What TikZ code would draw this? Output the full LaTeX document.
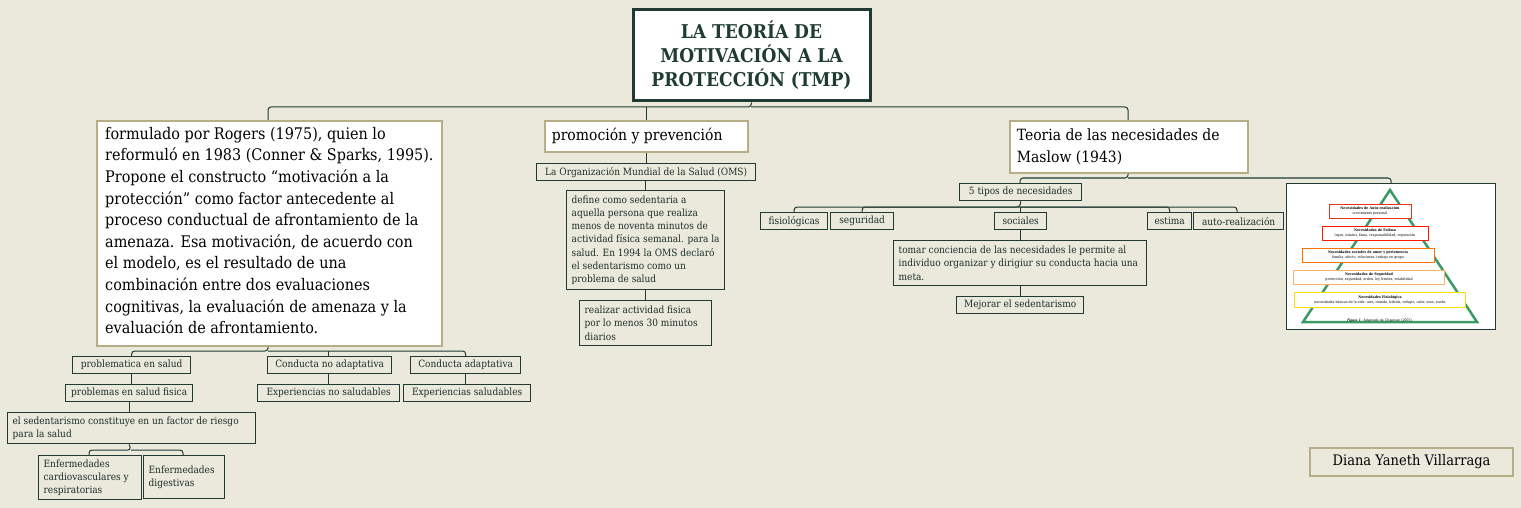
\documentclass[tikz,border=0pt]{standalone}
\usepackage{fontspec}
\setmainfont{DejaVu Serif Condensed}
\definecolor{bg}{HTML}{EBE8DC}
\definecolor{dk}{HTML}{1F3B33}
\definecolor{kh}{HTML}{B5AE86}
\definecolor{pg}{HTML}{3A9A64}
\tikzset{
 sbox/.style={draw=dk,line width=1.3pt,fill=bg,anchor=north west,inner sep=4pt,align=flush left,font=\fontsize{10}{13.2}\selectfont,text=dk!80!black},
 wbox/.style={draw=kh,line width=1.8pt,fill=white,anchor=north west,inner sep=7pt,align=flush left,text=black},
 ln/.style={draw=dk,line width=1pt,rounded corners=3pt},
 pl/.style={line width=0.8pt,fill=white,anchor=center,inner sep=1pt,align=center,font=\fontsize{3.6}{4.3}\selectfont},
}
\begin{document}
\begin{tikzpicture}[x=1pt,y=-1pt]
\fill[bg] (0,0) rectangle (1521,508);
\useasboundingbox (0,0) rectangle (1521,508);
% title
\node[draw=dk,line width=3pt,fill=white,minimum width=237pt,minimum height=91pt,align=center,text=dk,font=\fontsize{19}{24}\selectfont\bfseries] (t) at (751.5,55.5) {LA TEORÍA DE\\MOTIVACIÓN A LA\\PROTECCIÓN (TMP)};
% top level
\node[draw=kh,line width=1.8pt,fill=white,minimum width=345pt,minimum height=225pt,anchor=north west] (l) at (96,120) {};
\node[anchor=north west,inner sep=0pt,align=left,font=\fontsize{16}{21.6}\selectfont] (lt) at (105,127) {formulado por Rogers (1975), quien lo\\reformuló en 1983 (Conner \& Sparks, 1995).\\Propone el constructo “motivación a la\\protección” como factor antecedente al\\proceso conductual de afrontamiento de la\\amenaza. Esa motivación, de acuerdo con\\el modelo, es el resultado de una\\combinación entre dos evaluaciones\\cognitivas, la evaluación de amenaza y la\\evaluación de afrontamiento.};
\node[wbox,minimum width=203pt,minimum height=31pt,text width=189pt,font=\fontsize{15.5}{19}\selectfont] (p) at (544,120) {promoción y prevención};
\node[wbox,minimum width=238pt,minimum height=52pt,text width=224pt,font=\fontsize{15.5}{22}\selectfont] (m) at (1009,120) {Teoria de las necesidades de Maslow (1943)};
% middle column
\node[sbox,minimum width=219pt,minimum height=17pt,inner sep=2pt,align=center] (oms) at (536,163) {La Organización Mundial de la Salud (OMS)};
\node[sbox,minimum width=158pt,minimum height=99pt,text width=148pt] (def) at (566,190) {define como sedentaria a aquella persona que realiza menos de noventa minutos de actividad física semanal. para la salud. En 1994 la OMS declaró el sedentarismo como un problema de salud};
\node[sbox,minimum width=132pt,minimum height=45pt,text width=122pt] (rea) at (579,300) {realizar actividad fisica por lo menos 30 minutos diarios};
% right column
\node[sbox,minimum width=122pt,minimum height=17pt,inner sep=2pt,align=center] (cinco) at (959,183) {5 tipos de necesidades};
\node[sbox,minimum width=67pt,minimum height=17pt,inner sep=2pt,align=center] (fis) at (760,212) {fisiológicas};
\node[sbox,minimum width=63pt,minimum height=17pt,inner sep=2pt,align=center] (seg) at (830,212) {seguridad};
\node[sbox,minimum width=52pt,minimum height=17pt,inner sep=2pt,align=center] (soc) at (994,212) {sociales};
\node[sbox,minimum width=44pt,minimum height=17pt,inner sep=2pt,align=center] (est) at (1147,212) {estima};
\node[sbox,minimum width=90pt,minimum height=17pt,inner sep=2pt,align=center] (aut) at (1193,212) {auto-realización};
\node[sbox,minimum width=253pt,minimum height=45pt,text width=243pt] (tom) at (893,240) {tomar conciencia de las necesidades le permite al individuo organizar y dirigiur su conducta hacia una meta.};
\node[sbox,minimum width=127pt,minimum height=17pt,inner sep=2pt,align=center] (mej) at (956,296) {Mejorar el sedentarismo};
% image
\node[draw=dk,line width=1.2pt,fill=white,minimum width=209pt,minimum height=146pt,anchor=north west] (img) at (1286,183) {};
\draw[pg,line width=2.5pt] (1390,190) -- (1303,322) -- (1477,322) -- cycle;
\node[pl,draw=red!60!brown,minimum width=82pt,minimum height=14pt] (n1) at (1370,211) {\textbf{Necesidades de Auto-realización}\\crecimiento personal};
\node[pl,draw=red!80!orange,minimum width=106pt,minimum height=14pt] (n2) at (1375,233) {\textbf{Necesidades de Estima}\\logro, estatus, fama, responsabilidad, reputación};
\node[pl,draw=orange!90!red,minimum width=132pt,minimum height=14pt] (n3) at (1368,255) {\textbf{Necesidades sociales de amor y pertenencia}\\familia, afecto, relaciones, trabajo en grupo};
\node[pl,draw=orange!60,minimum width=151pt,minimum height=14pt] (n4) at (1369,277) {\textbf{Necesidades de Seguridad}\\protección, seguridad, orden, ley, límites, estabilidad};
\node[pl,draw=yellow!80!orange,minimum width=171pt,minimum height=15pt] (n5) at (1380,300) {\textbf{Necesidades Fisiológica}\\necesidades básicas de la vida: aire, comida, bebida, refugio, calor, sexo, sueño};
\node[font=\fontsize{3.6}{4}\selectfont\sffamily] (cap) at (1380,321) {\textbf{\itshape Figura 1}. Adaptado de Chapman (2007).};
% left column
\node[sbox,minimum width=118pt,minimum height=17pt,inner sep=2pt,align=center] (pro) at (72,356) {problematica en salud};
\node[sbox,minimum width=124pt,minimum height=17pt,inner sep=2pt,align=center] (cna) at (267,356) {Conducta no adaptativa};
\node[sbox,minimum width=110pt,minimum height=17pt,inner sep=2pt,align=center] (ca) at (410,356) {Conducta adaptativa};
\node[sbox,minimum width=127pt,minimum height=17pt,inner sep=2pt,align=center] (pf) at (65,384) {problemas en salud fisica};
\node[sbox,minimum width=142pt,minimum height=17pt,inner sep=2pt,align=center] (ens) at (257,384) {Experiencias no saludables};
\node[sbox,minimum width=127pt,minimum height=17pt,inner sep=2pt,align=center] (es) at (403,384) {Experiencias saludables};
\node[sbox,minimum width=248pt,minimum height=31pt,text width=238pt] (sed) at (7,412) {el sedentarismo constituye en un factor de riesgo para la salud};
\node[sbox,minimum width=103pt,minimum height=43pt,text width=93pt] (ec) at (38,455) {Enfermedades cardiovasculares y respiratorias};
\node[sbox,minimum width=81pt,minimum height=43pt,text width=71pt] (ed) at (143,455) {Enfermedades digestivas};
% author
\node[draw=kh,line width=1.8pt,fill=bg,minimum width=203pt,minimum height=28pt,font=\fontsize{14.5}{16}\selectfont] (au) at (1411.5,462) {Diana Yaneth Villarraga};
% connectors
\draw[ln] (t.south) -- (751,107) -| (l.north -| 268,0);
\draw[ln] (751,107) -| (1128,120);
\draw[ln] (p.north) -- (p.north |- 0,107);
\draw[ln] (p.south) -- (oms.north -| p.south);
\draw[ln] (oms.south -| 645,0) -- (def.north -| 645,0);
\draw[ln] (def.south -| 645,0) -- (rea.north -| 645,0);
\draw[ln] (m.south -| 1128,0) -- (1128,178) -| (cinco.north -| 1020,0);
\draw[ln] (1128,178) -| (img.north);
\draw[ln] (cinco.south) -- (1020,207) -| (fis.north);
\draw[ln] (1020,207) -| (seg.north);
\draw[ln] (1020,207) -| (aut.north -| 1237,0);
\draw[ln] (1020,207) -| (est.north);
\draw[ln] (1020,207) -- (soc.north -| 1020,0);
\draw[ln] (soc.south -| 1020,0) -- (tom.north -| 1020,0);
\draw[ln] (tom.south -| 1020,0) -- (mej.north -| 1020,0);
\draw[ln] (l.south -| 268,0) -- (268,351) -| (pro.north);
\draw[ln] (268,351) -| (ca.north);
\draw[ln] (cna.north -| 328,0) -- (328,351);
\draw[ln] (pro.south) -- (pf.north -| pro.south);
\draw[ln] (pf.south) -- (sed.north -| pf.south);
\draw[ln] (sed.south -| pf.south) -- (131,450) -| (ec.north -| 89,0);
\draw[ln] (131,450) -| (ed.north -| 183,0);
\draw[ln] (cna.south -| 328,0) -- (ens.north -| 328,0);
\draw[ln] (ca.south) -- (es.north -| ca.south);
\end{tikzpicture}
\end{document}
